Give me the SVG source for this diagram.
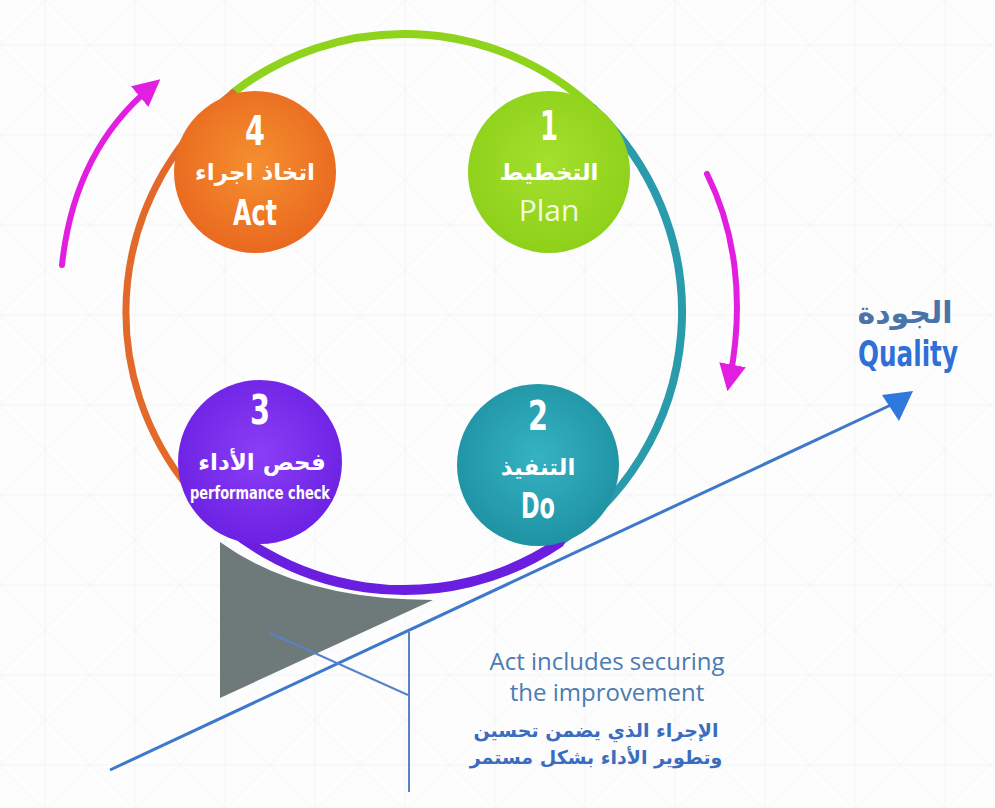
<svg xmlns="http://www.w3.org/2000/svg" width="995" height="808" viewBox="0 0 995 808">
<defs>
<pattern id="bg" x="0" y="0" width="90" height="90" patternUnits="userSpaceOnUse">
<path d="M0,45 L45,0 L90,45 L45,90 Z M45,0 V90 M0,45 H90" fill="none" stroke="#f3f5f5" stroke-width="1"/>
</pattern>
<radialGradient id="gOrange" cx="0.5" cy="0.45" r="0.6"><stop offset="0" stop-color="#f5902f"/><stop offset="1" stop-color="#e8651e"/></radialGradient>
<radialGradient id="gGreen" cx="0.5" cy="0.45" r="0.6"><stop offset="0" stop-color="#a4e02e"/><stop offset="1" stop-color="#8ccf18"/></radialGradient>
<radialGradient id="gPurple" cx="0.5" cy="0.45" r="0.6"><stop offset="0" stop-color="#8a3ef5"/><stop offset="1" stop-color="#6a1fe2"/></radialGradient>
<radialGradient id="gTeal" cx="0.5" cy="0.45" r="0.6"><stop offset="0" stop-color="#35b3c2"/><stop offset="1" stop-color="#1d8fa0"/></radialGradient>
<marker id="mag" viewBox="0 0 10 10" refX="5" refY="5" markerWidth="4.5" markerHeight="4.5" orient="auto" markerUnits="strokeWidth">
<path d="M0,0 L10,5 L0,10 Z" fill="#e21ee0"/>
</marker>
</defs>
<style>
.num{font-family:"Liberation Sans Narrow","DejaVu Sans Condensed","Liberation Sans",sans-serif;font-weight:bold;fill:#ffffff;text-anchor:middle}
.ar{font-family:"DejaVu Sans","Noto Sans",sans-serif;font-weight:bold;fill:#ffffff;text-anchor:middle}
.en{font-family:"Liberation Sans Narrow","DejaVu Sans Condensed","Liberation Sans",sans-serif;font-weight:bold;fill:#ffffff;text-anchor:middle}
.ring{fill:none;stroke-linecap:round}
.arc{fill:none;stroke:#e21ee0;stroke-width:6;stroke-linecap:round}
.thin{fill:none;stroke:#5a82c8;stroke-width:2}
</style>
<rect width="995" height="808" fill="#fdfdfd"/>
<rect width="995" height="808" fill="url(#bg)"/>

<g id="connectors">
<path class="ring" d="M232.8,92.9 A278,278 0 0 1 593.6,108.7" stroke="#8fd31c" stroke-width="8"/>
<path class="ring" d="M593.6,108.7 A278,278 0 0 1 559.5,542.5" stroke="#2a9bac" stroke-width="8"/>
<path class="ring" d="M191,490.7 A278,278 0 0 1 232.8,92.9" stroke="#e2692a" stroke-width="7"/>
<path d="M220,542 Q300,600 433,600 L220,698 Z" fill="#6e7a7a"/>
<path class="ring" d="M559.5,542.5 A278,278 0 0 1 191,490.7" stroke="#6a1fe0" stroke-width="10"/>
<path class="arc" d="M62,265 C70,190 100,130 150,88" marker-end="url(#mag)"/>
<path class="arc" d="M707,174 C735,230 745,300 730,378" marker-end="url(#mag)"/>
<line x1="110" y1="770" x2="893" y2="404" stroke="#3d78cc" stroke-width="3"/>
<polygon points="913,391 882,395 899,421" fill="#2f78dc"/>
<line class="thin" x1="270" y1="633" x2="408" y2="695"/>
<line class="thin" x1="409" y1="632" x2="409" y2="792"/>
</g>

<g id="node4">
<circle cx="255" cy="172" r="81" fill="url(#gOrange)"/>
<text class="num" x="255" y="145" font-size="40" textLength="20" lengthAdjust="spacingAndGlyphs">4</text>
<text class="ar" x="255" y="180" font-size="23">اتخاذ اجراء</text>
<text class="en" x="255" y="225" font-size="36" textLength="44" lengthAdjust="spacingAndGlyphs">Act</text>
</g>

<g id="node1">
<circle cx="549" cy="172" r="81" fill="url(#gGreen)"/>
<text class="num" x="549" y="140" font-size="40" textLength="18" lengthAdjust="spacingAndGlyphs">1</text>
<text class="ar" x="549" y="180" font-size="23" fill="#f4fadc">التخطيط</text>
<text x="549" y="221" font-size="30" text-anchor="middle" font-family="'Open Sans','Liberation Sans',sans-serif" fill="#f4fadc">Plan</text>
</g>

<g id="node3">
<circle cx="260" cy="462" r="82" fill="url(#gPurple)"/>
<text class="num" x="260" y="424" font-size="40" textLength="20" lengthAdjust="spacingAndGlyphs">3</text>
<text class="ar" x="262" y="470" font-size="23">فحص الأداء</text>
<text class="en" x="260" y="499" font-size="17" textLength="140" lengthAdjust="spacingAndGlyphs">performance check</text>
</g>

<g id="node2">
<circle cx="538" cy="465" r="81" fill="url(#gTeal)"/>
<text class="num" x="538" y="430" font-size="40" textLength="20" lengthAdjust="spacingAndGlyphs">2</text>
<text class="ar" x="538" y="475" font-size="23">التنفيذ</text>
<text class="en" x="538" y="518" font-size="36" textLength="34" lengthAdjust="spacingAndGlyphs">Do</text>
</g>

<g id="quality">
<text x="905" y="323" font-size="30" text-anchor="middle" font-family="'DejaVu Sans',sans-serif" font-weight="bold" fill="#4a74a8">الجودة</text>
<text x="908" y="366" font-size="36" text-anchor="middle" font-family="'Liberation Sans Narrow','DejaVu Sans Condensed','Liberation Sans',sans-serif" font-weight="bold" fill="#2e6fd8" textLength="100" lengthAdjust="spacingAndGlyphs">Quality</text>
</g>

<g id="note">
<text x="607" y="670" font-size="24" text-anchor="middle" font-family="'Open Sans','Liberation Sans',sans-serif" fill="#4b7bb3">Act includes securing</text>
<text x="607" y="701" font-size="24" text-anchor="middle" font-family="'Open Sans','Liberation Sans',sans-serif" fill="#4b7bb3">the improvement</text>
<text x="596" y="737" font-size="19" text-anchor="middle" font-family="'DejaVu Sans',sans-serif" font-weight="bold" fill="#3a6cc0">الإجراء الذي يضمن تحسين</text>
<text x="596" y="764" font-size="19" text-anchor="middle" font-family="'DejaVu Sans',sans-serif" font-weight="bold" fill="#3a6cc0">وتطوير الأداء بشكل مستمر</text>
</g>
</svg>
